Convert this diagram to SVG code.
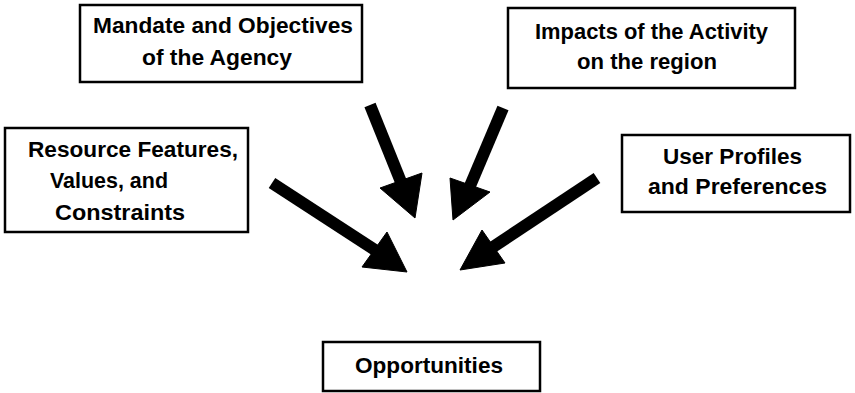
<svg xmlns="http://www.w3.org/2000/svg" width="855" height="393" viewBox="0 0 855 393">
  <style>
    .box { fill: #ffffff; stroke: #000000; stroke-width: 2.5; }
    .label { font-family: "Liberation Sans", Arial, sans-serif; font-weight: bold; font-size: 22px; fill: #000000; }
    .shaft { stroke: #000000; stroke-width: 12; fill: none; }
    .head { fill: #000000; stroke: #000000; stroke-width: 1; stroke-linejoin: round; }
  </style>
  <rect width="855" height="393" fill="#ffffff"/>

  <g id="mandate">
    <rect class="box" x="80" y="5" width="282" height="77"/>
    <text class="label" x="93" y="33" textLength="260" lengthAdjust="spacingAndGlyphs">Mandate and Objectives</text>
    <text class="label" x="142" y="65" textLength="150" lengthAdjust="spacingAndGlyphs">of the Agency</text>
  </g>

  <g id="impacts">
    <rect class="box" x="508" y="8" width="287" height="80"/>
    <text class="label" x="535" y="39" textLength="233" lengthAdjust="spacingAndGlyphs">Impacts of the Activity</text>
    <text class="label" x="577" y="69" textLength="140" lengthAdjust="spacingAndGlyphs">on the region</text>
  </g>

  <g id="resource">
    <rect class="box" x="5" y="128" width="243" height="104"/>
    <text class="label" x="28" y="157" textLength="210" lengthAdjust="spacingAndGlyphs">Resource Features,</text>
    <text class="label" x="50" y="188" textLength="118" lengthAdjust="spacingAndGlyphs">Values, and</text>
    <text class="label" x="55" y="220" textLength="130" lengthAdjust="spacingAndGlyphs">Constraints</text>
  </g>

  <g id="users">
    <rect class="box" x="622" y="135" width="228" height="77"/>
    <text class="label" x="663" y="164" textLength="139" lengthAdjust="spacingAndGlyphs">User Profiles</text>
    <text class="label" x="648" y="194" textLength="179" lengthAdjust="spacingAndGlyphs">and Preferences</text>
  </g>

  <g id="opportunities">
    <rect class="box" x="323" y="342" width="217" height="49"/>
    <text class="label" x="355" y="373" textLength="148" lengthAdjust="spacingAndGlyphs">Opportunities</text>
  </g>

  <g id="connectors">
    <g id="arrow-mandate">
      <line class="shaft" x1="370" y1="105" x2="401" y2="182"/>
      <polygon class="head" points="380,188 422,173 415,218"/>
    </g>
    <g id="arrow-impacts">
      <line class="shaft" x1="503" y1="108" x2="470" y2="186"/>
      <polygon class="head" points="450,178 490,192 453,220"/>
    </g>
    <g id="arrow-resource">
      <line class="shaft" x1="272" y1="183" x2="375" y2="250"/>
      <polygon class="head" points="362,267 387,232 407,272"/>
    </g>
    <g id="arrow-users">
      <line class="shaft" x1="597" y1="178" x2="493" y2="247"/>
      <polygon class="head" points="482,230 505,263 460,270"/>
    </g>
  </g>
</svg>
